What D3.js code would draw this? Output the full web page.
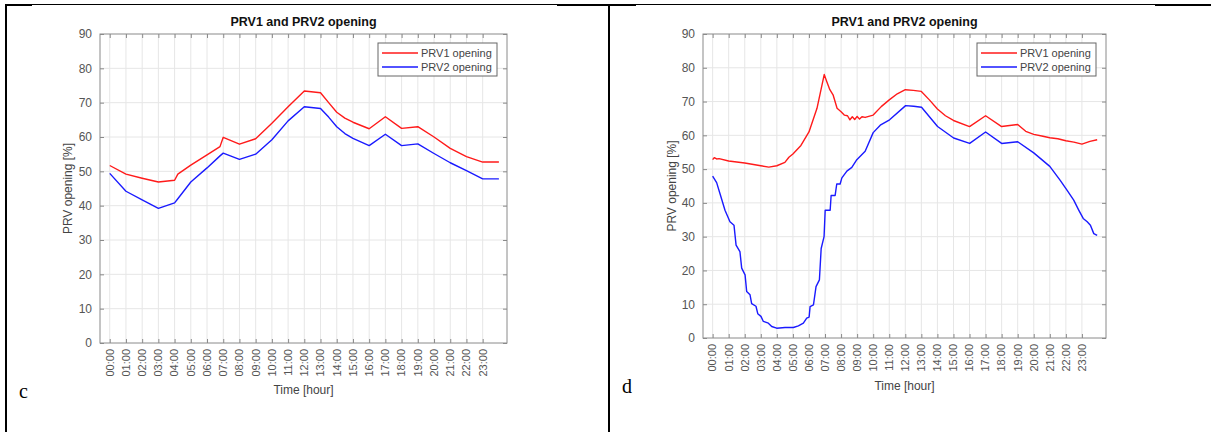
<!DOCTYPE html>
<html>
<head>
<meta charset="utf-8">
<script src="https://cdn.jsdelivr.net/npm/d3@7"></script>
<style>
  html, body { margin: 0; padding: 0; background: #fff; }
  svg { display: block; }
  text { font-family: "Liberation Sans", Arial, Helvetica, sans-serif; }
  text.panel-letter { font-family: "Liberation Serif", "Times New Roman", serif; }
</style>
</head>
<body>
<svg id="chart" width="1211" height="432"></svg>
<script>
// ---------- DATA ----------
const hourTicks = [0,1,2,3,4,5,6,7,8,9,10,11,12,13,14,15,16,17,18,19,20,21,22,23];
const hourLabels = ["00:00","01:00","02:00","03:00","04:00","05:00","06:00","07:00","08:00","09:00","10:00","11:00",
                    "12:00","13:00","14:00","15:00","16:00","17:00","18:00","19:00","20:00","21:00","22:00","23:00"];
const yTicks = [0,10,20,30,40,50,60,70,80,90];
const seriesNames = ["PRV1 opening", "PRV2 opening"];
const chartTitle = "PRV1 and PRV2 opening";
const xTitle = "Time [hour]";
const yTitle = "PRV opening [%]";
const panelLabels = ["c", "d"];

// panel c (hours)
const cTime  = [0, 1, 2, 3, 4, 4.2, 5, 6, 6.8, 7, 8, 9, 10, 11, 12, 13, 13.5, 14, 14.5, 15, 16, 17, 18, 19, 20, 21, 22, 23, 24];
const cPRV1  = [51.7, 49.2, 48.0, 46.9, 47.4, 49.2, 51.8, 54.8, 57.2, 59.9, 57.9, 59.5, 64.0, 68.8, 73.4, 72.9, 70.0, 67.2, 65.5, 64.3, 62.4, 65.9, 62.5, 63.0, 60.0, 56.7, 54.3, 52.7, 52.7];
const cPRV2  = [49.4, 44.2, 41.7, 39.2, 40.8, 42.0, 46.9, 51.0, 54.5, 55.3, 53.5, 55.0, 59.2, 64.7, 68.8, 68.3, 65.8, 63.0, 61.0, 59.6, 57.5, 60.8, 57.5, 58.0, 55.2, 52.5, 50.2, 47.8, 47.8];

// panel d (hours)
const dTime1 = [0, 0.1, 0.25, 0.4, 1.0, 2.0, 3.0, 3.5, 4.0, 4.5, 4.75, 5.0, 5.5, 6.0, 6.5, 6.95, 7.1, 7.3, 7.5, 7.75, 8.0, 8.2, 8.4, 8.55, 8.7, 8.85, 9.0, 9.15, 9.3, 9.5, 10.0, 10.5, 11.0, 11.5, 12.0, 12.5, 13.0, 13.5, 14.0, 14.5, 15.0, 16.0, 17.0, 18.0, 19.0, 19.5, 20.0, 20.5, 21.0, 21.5, 22.0, 22.5, 23.0, 23.5, 23.95];
const dPRV1  = [52.8, 53.4, 53.0, 53.1, 52.4, 51.8, 51.0, 50.6, 51.0, 52.0, 53.5, 54.5, 57.0, 61.0, 68.0, 78.0, 76.0, 73.5, 72.0, 68.0, 67.0, 66.0, 65.8, 64.6, 65.5, 64.7, 65.6, 64.8, 65.5, 65.3, 66.0, 68.5, 70.5, 72.3, 73.5, 73.3, 73.0, 70.5, 67.8, 65.8, 64.4, 62.6, 65.8, 62.6, 63.2, 61.2, 60.3, 59.8, 59.3, 59.0, 58.4, 58.0, 57.4, 58.2, 58.7];
const dTime2 = [0, 0.25, 0.46, 0.77, 1.08, 1.33, 1.46, 1.70, 1.81, 2.02, 2.12, 2.33, 2.43, 2.70, 2.81, 3.01, 3.16, 3.47, 3.68, 3.99, 4.51, 5.03, 5.34, 5.65, 5.86, 6.01, 6.07, 6.28, 6.44, 6.65, 6.76, 6.94, 7.01, 7.32, 7.38, 7.63, 7.73, 7.94, 8.05, 8.36, 8.67, 8.98, 9.50, 10.0, 10.44, 11.02, 12.02, 12.52, 13.01, 14.01, 15.01, 16.01, 17.0, 18.0, 19.0, 20.0, 21.0, 21.66, 22.08, 22.49, 22.81, 23.08, 23.33, 23.53, 23.74, 23.95];
const dPRV2  = [47.9, 46.0, 42.7, 37.8, 34.4, 33.4, 27.5, 25.6, 20.7, 18.7, 13.8, 12.8, 10.2, 9.4, 7.2, 6.4, 4.9, 4.4, 3.4, 2.9, 3.1, 3.1, 3.6, 4.4, 5.9, 6.2, 9.3, 9.8, 15.2, 17.2, 26.5, 30.0, 37.8, 37.8, 42.2, 42.2, 45.6, 45.6, 47.4, 49.4, 50.5, 52.8, 55.3, 60.8, 63.0, 64.6, 68.8, 68.6, 68.3, 62.6, 59.2, 57.6, 61.0, 57.6, 58.1, 54.8, 50.8, 46.6, 43.7, 40.8, 37.8, 35.4, 34.4, 33.4, 30.9, 30.4];

// ---------- DRAW ----------
const svg = d3.select("#chart");
const colors = ["#ff1a1a", "#1a1aff"];

// table borders
svg.append("line").attr("x1", 5).attr("x2", 1211).attr("y1", 5).attr("y2", 5).attr("stroke", "#000").attr("stroke-width", 2);
svg.append("line").attr("x1", 6).attr("x2", 6).attr("y1", 4).attr("y2", 432).attr("stroke", "#000").attr("stroke-width", 2);
svg.append("line").attr("x1", 609).attr("x2", 609).attr("y1", 4).attr("y2", 432).attr("stroke", "#000").attr("stroke-width", 2);
// image areas overlapping the top border
svg.append("rect").attr("x", 32).attr("y", 5).attr("width", 525).attr("height", 2).attr("fill", "#fff");
svg.append("rect").attr("x", 636).attr("y", 5).attr("width", 519).attr("height", 2).attr("fill", "#fff");

function drawPanel(cfg, series, label) {
  const g = svg.append("g");
  const x = d3.scaleLinear().domain([-0.6, 24.5]).range([cfg.left, cfg.right]);
  const y = d3.scaleLinear().domain([0, 90]).range([cfg.bottom, cfg.top]);

  // grid
  g.append("g").selectAll("line").data(hourTicks).join("line")
    .attr("x1", d => x(d)).attr("x2", d => x(d)).attr("y1", cfg.top).attr("y2", cfg.bottom)
    .attr("stroke", "#e6e6e6").attr("stroke-width", 1);
  g.append("g").selectAll("line").data(yTicks.slice(1, -1)).join("line")
    .attr("x1", cfg.left).attr("x2", cfg.right).attr("y1", d => y(d)).attr("y2", d => y(d))
    .attr("stroke", "#e6e6e6").attr("stroke-width", 1);

  // axes (ticks inside, mirrored)
  const tickLen = 4;
  const axB = g.append("g").attr("transform", `translate(0,${cfg.bottom})`)
    .call(d3.axisBottom(x).tickValues(hourTicks).tickSize(-tickLen).tickFormat(""));
  const axT = g.append("g").attr("transform", `translate(0,${cfg.top})`)
    .call(d3.axisTop(x).tickValues(hourTicks).tickSize(-tickLen).tickFormat(""));
  const axL = g.append("g").attr("transform", `translate(${cfg.left},0)`)
    .call(d3.axisLeft(y).tickValues(yTicks).tickSize(-tickLen).tickPadding(8));
  const axR = g.append("g").attr("transform", `translate(${cfg.right},0)`)
    .call(d3.axisRight(y).tickValues(yTicks).tickSize(-tickLen).tickFormat(""));
  [axB, axT, axL, axR].forEach(a => {
    a.select(".domain").remove();
    a.selectAll(".tick line").attr("stroke", "#8a8a8a");
  });
  axL.selectAll(".tick text").attr("fill", "#555").attr("font-size", 12);

  // rotated x tick labels
  g.append("g").selectAll("text").data(hourTicks).join("text")
    .attr("transform", d => `translate(${x(d)},${cfg.bottom + 6}) rotate(-90)`)
    .attr("text-anchor", "end").attr("dy", "0.35em")
    .attr("font-size", 11).attr("fill", "#555")
    .text((d, i) => hourLabels[i]);

  // box
  g.append("rect").attr("x", cfg.left).attr("y", cfg.top)
    .attr("width", cfg.right - cfg.left).attr("height", cfg.bottom - cfg.top)
    .attr("fill", "none").attr("stroke", "#8a8a8a").attr("stroke-width", 1);

  // lines
  const line = d3.line().x(d => x(d[0])).y(d => y(d[1]));
  series.forEach((s, i) => {
    const pts = s.t.map((t, k) => [t, s.v[k]]);
    g.append("path").datum(pts).attr("d", line)
      .attr("fill", "none").attr("stroke", colors[i]).attr("stroke-width", 1.4)
      .attr("stroke-linejoin", "round");
  });

  // title
  const cx = (cfg.left + cfg.right) / 2;
  g.append("text").attr("x", cx).attr("y", cfg.top - 8).attr("text-anchor", "middle")
    .attr("font-size", 12.5).attr("font-weight", "bold").attr("fill", "#111").text(chartTitle);
  // axis titles
  g.append("text").attr("x", cx).attr("y", cfg.xTitleY).attr("text-anchor", "middle")
    .attr("font-size", 12).attr("fill", "#444").text(xTitle);
  g.append("text").attr("transform", `translate(${cfg.yTitleX},${(cfg.top + cfg.bottom) / 2}) rotate(-90)`)
    .attr("text-anchor", "middle").attr("font-size", 12).attr("fill", "#444").text(yTitle);

  // legend
  const lw = 119, lh = 33;
  const lx = cfg.right - 10 - lw, ly = cfg.top + 9;
  const lg = g.append("g");
  lg.append("rect").attr("x", lx).attr("y", ly).attr("width", lw).attr("height", lh)
    .attr("fill", "#fff").attr("stroke", "#666").attr("stroke-width", 1);
  seriesNames.forEach((n, i) => {
    const yy = ly + 10 + i * 14;
    lg.append("line").attr("x1", lx + 4).attr("x2", lx + 40).attr("y1", yy).attr("y2", yy)
      .attr("stroke", colors[i]).attr("stroke-width", 1.5);
    lg.append("text").attr("x", lx + 43).attr("y", yy).attr("dy", "0.35em")
      .attr("font-size", 11).attr("fill", "#444").text(n);
  });

  // panel letter
  svg.append("text").attr("class", "panel-letter").attr("x", cfg.letterX).attr("y", cfg.letterY)
    .attr("font-size", 20).attr("fill", "#000").text(label);
}

drawPanel({left: 100, right: 507, top: 34, bottom: 343, xTitleY: 394, yTitleX: 72, letterX: 19, letterY: 398},
  [{t: cTime, v: cPRV1}, {t: cTime, v: cPRV2}], panelLabels[0]);
drawPanel({left: 703, right: 1106, top: 34, bottom: 338, xTitleY: 390, yTitleX: 676, letterX: 622, letterY: 393},
  [{t: dTime1, v: dPRV1}, {t: dTime2, v: dPRV2}], panelLabels[1]);
</script>
</body>
</html>
